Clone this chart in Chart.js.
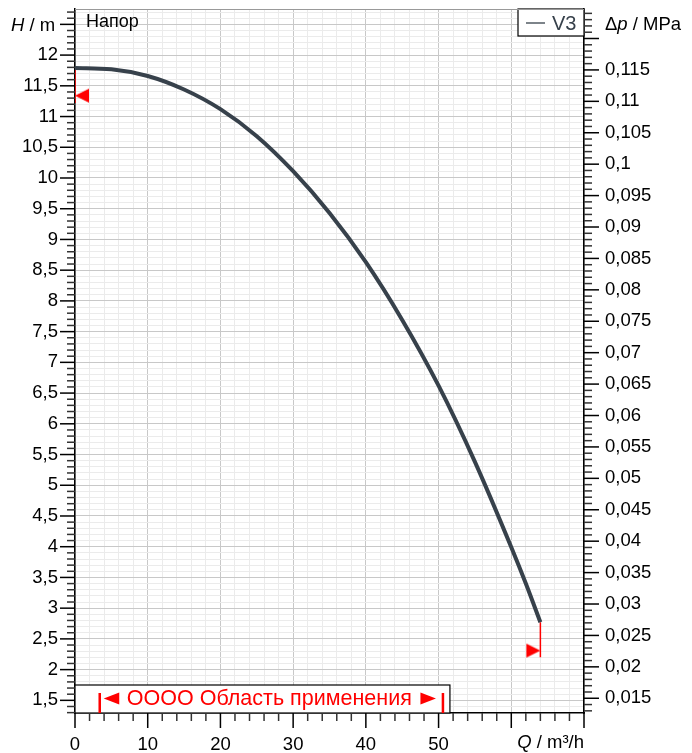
<!DOCTYPE html>
<html>
<head>
<meta charset="utf-8">
<script src="https://cdn.jsdelivr.net/npm/chart.js@4.4.0/dist/chart.umd.min.js"></script>
<style>
  html, body { margin: 0; padding: 0; background: #fff; }
  #wrap { width: 692px; height: 753px; }
</style>
</head>
<body>
<div id="wrap"><canvas id="pumpChart" width="692" height="753"></canvas></div>
<script>
// Q / m³/h
var flow = [0, 5, 10, 15, 20, 25, 30, 35, 40, 45, 50, 55, 60, 62, 64];
// H / m for curve V3
var head = [11.79, 11.77, 11.66, 11.44, 11.12, 10.68, 10.11, 9.43, 8.63, 7.69, 6.62, 5.38, 3.99, 3.40, 2.77];
var seriesName = "V3";

// red end markers of the curve
var markQ = [0, 64];
var markTopH = [11.79, 2.77];
var markBottomH = [11.22, 2.20];
var markArrowH = [11.34, 2.31];

// application range (Область применения)
var rangeQ = [3.4, 50.6];

// tick labels
var qTicks = [0, 10, 20, 30, 40, 50];
var hTicks = [1.5, 2, 2.5, 3, 3.5, 4, 4.5, 5, 5.5, 6, 6.5, 7, 7.5, 8, 8.5, 9, 9.5, 10, 10.5, 11, 11.5, 12];
var pTicks = [0.015, 0.02, 0.025, 0.03, 0.035, 0.04, 0.045, 0.05, 0.055, 0.06, 0.065, 0.07, 0.075, 0.08,
  0.085, 0.09, 0.095, 0.1, 0.105, 0.11, 0.115];

var hMin = 1.294, hMax = 12.75;
var qMin = 0, qMax = 70;
var rhoG = 0.00978; // MPa per m of head

var curveColor = "#37414b";
var majorGrid = "#c8c8c8";
var minorGrid = "#ebebeb";
var sans = "'Liberation Sans', Arial, sans-serif";
var tickFont = { family: sans, size: 18.5 };

function near(a, b) { return Math.abs(a - b) < 1e-6; }
function inList(list, v) { return list.some(function (t) { return near(t, v); }); }
function comma(v) { return String(v).replace(".", ","); }
function noPad(s) { s.paddingTop = 0; s.paddingBottom = 0; s.paddingLeft = 0; s.paddingRight = 0; }

// triangle marker whose tip sits on the data point
function arrowImage(dir) {
  var c = document.createElement("canvas");
  c.width = 32; c.height = 20;
  var g = c.getContext("2d");
  g.fillStyle = "#ff0000";
  g.beginPath();
  g.moveTo(16, 10);
  if (dir < 0) { g.lineTo(30, 3); g.lineTo(30, 17); }
  else { g.lineTo(2, 3); g.lineTo(2, 17); }
  g.closePath();
  g.fill();
  return c;
}

var decor = {
  id: "decor",
  afterDatasetsDraw: function (chart) {
    var ctx = chart.ctx, a = chart.chartArea, x = chart.scales.x;
    ctx.save();
    // application range box
    var rx0 = x.getPixelForValue(rangeQ[0]);
    var rx1 = x.getPixelForValue(rangeQ[1]);
    var top = a.bottom - 28;
    ctx.fillStyle = "#fff";
    ctx.fillRect(a.left, top, rx1 + 7 - a.left, 28);
    ctx.strokeStyle = "#000";
    ctx.lineWidth = 1.2;
    ctx.strokeRect(a.left, top, rx1 + 7 - a.left, 28);
    ctx.strokeStyle = "#ff0000";
    ctx.lineWidth = 2.5;
    [rx0, rx1].forEach(function (px) {
      ctx.beginPath();
      ctx.moveTo(px, a.bottom - 20);
      ctx.lineTo(px, a.bottom);
      ctx.stroke();
    });
    var my = a.bottom - 14.5;
    ctx.fillStyle = "#ff0000";
    ctx.beginPath();
    ctx.moveTo(rx0 + 4, my); ctx.lineTo(rx0 + 19.5, my - 6); ctx.lineTo(rx0 + 19.5, my + 6);
    ctx.closePath(); ctx.fill();
    ctx.beginPath();
    ctx.moveTo(rx1 - 7, my); ctx.lineTo(rx1 - 22.5, my - 6); ctx.lineTo(rx1 - 22.5, my + 6);
    ctx.closePath(); ctx.fill();
    ctx.font = "21.5px " + sans;
    ctx.textAlign = "center";
    ctx.textBaseline = "middle";
    ctx.fillText("OOOO Область применения", (rx0 + rx1) / 2 - 2, my + 0.5);

    // legend box
    ctx.fillStyle = "#fff";
    ctx.fillRect(a.right - 66, a.top, 66, 27);
    ctx.strokeStyle = "#000";
    ctx.lineWidth = 1.2;
    ctx.strokeRect(a.right - 66, a.top, 66, 27);
    ctx.strokeStyle = curveColor;
    ctx.lineWidth = 1.3;
    ctx.beginPath();
    ctx.moveTo(a.right - 58, a.top + 14);
    ctx.lineTo(a.right - 39, a.top + 14);
    ctx.stroke();
    ctx.fillStyle = curveColor;
    ctx.font = "20px " + sans;
    ctx.textAlign = "left";
    ctx.textBaseline = "alphabetic";
    ctx.fillText(chart.data.datasets[0].label, a.right - 32, a.top + 21);

    // chart title inside
    ctx.fillStyle = "#000";
    ctx.font = "18px " + sans;
    ctx.fillText("Напор", a.left + 11, a.top + 17.5);
    ctx.restore();
  },
  afterDraw: function (chart) {
    var ctx = chart.ctx, a = chart.chartArea;
    var x = chart.scales.x, y = chart.scales.y, y1 = chart.scales.y1;
    var i, p, len;
    ctx.save();
    // top border
    ctx.strokeStyle = "#999";
    ctx.lineWidth = 1;
    ctx.beginPath(); ctx.moveTo(a.left, a.top + 0.5); ctx.lineTo(a.right, a.top + 0.5); ctx.stroke();

    ctx.lineWidth = 1.5;
    // left ticks every 0.1 m
    for (i = Math.ceil(hMin * 10); i <= Math.floor(hMax * 10); i++) {
      p = y.getPixelForValue(i / 10);
      len = i % 5 === 0 ? 15 : 8;
      ctx.strokeStyle = i % 5 === 0 ? "#000" : "#333";
      ctx.beginPath(); ctx.moveTo(a.left - len, p); ctx.lineTo(a.left, p); ctx.stroke();
    }
    // bottom ticks every 2 m³/h
    for (i = qMin; i <= qMax; i += 2) {
      p = x.getPixelForValue(i);
      len = i % 10 === 0 ? 15 : 8;
      ctx.strokeStyle = i % 10 === 0 ? "#000" : "#333";
      ctx.beginPath(); ctx.moveTo(p, a.bottom); ctx.lineTo(p, a.bottom + len); ctx.stroke();
    }
    // right ticks every 0.001 MPa
    for (i = Math.ceil(y1.min * 1000); i <= Math.floor(y1.max * 1000); i++) {
      p = y1.getPixelForValue(i / 1000);
      len = i % 5 === 0 ? 15 : 8;
      ctx.strokeStyle = i % 5 === 0 ? "#000" : "#333";
      ctx.beginPath(); ctx.moveTo(a.right, p); ctx.lineTo(a.right + len, p); ctx.stroke();
    }

    // axis titles
    ctx.fillStyle = "#000";
    ctx.textBaseline = "alphabetic";
    function parts(list, px, py, alignRight) {
      var w = 0;
      list.forEach(function (t) { ctx.font = (t[1] ? "italic " : "") + "18.5px " + sans; w += ctx.measureText(t[0]).width; });
      var cx = alignRight ? px - w : px;
      ctx.textAlign = "left";
      list.forEach(function (t) {
        ctx.font = (t[1] ? "italic " : "") + "18.5px " + sans;
        ctx.fillText(t[0], cx, py);
        cx += ctx.measureText(t[0]).width;
      });
    }
    parts([["H", true], [" / m", false]], 11, 31, false);
    parts([["Δ", false], ["p", true], [" / MPa", false]], 605, 30, false);
    parts([["Q", true], [" / m³/h", false]], a.right, 748, true);
    ctx.restore();
  }
};

new Chart(document.getElementById("pumpChart"), {
  type: "line",
  data: {
    datasets: [
      {
        label: seriesName,
        data: flow.map(function (q, i) { return { x: q, y: head[i] }; }),
        borderColor: curveColor,
        borderWidth: 4,
        pointRadius: 0,
        cubicInterpolationMode: "monotone"
      },
      {
        label: "start",
        data: [{ x: markQ[0], y: markTopH[0] }, { x: markQ[0], y: markBottomH[0] }],
        borderColor: "#ff0000",
        borderWidth: 1.5,
        pointRadius: 0
      },
      {
        label: "end",
        data: [{ x: markQ[1], y: markTopH[1] }, { x: markQ[1], y: markBottomH[1] }],
        borderColor: "#ff0000",
        borderWidth: 1.5,
        pointRadius: 0
      },
      {
        label: "startArrow",
        data: [{ x: markQ[0], y: markArrowH[0] }],
        showLine: false,
        pointStyle: arrowImage(-1),
        pointRadius: 8
      },
      {
        label: "endArrow",
        data: [{ x: markQ[1], y: markArrowH[1] }],
        showLine: false,
        pointStyle: arrowImage(1),
        pointRadius: 8
      }
    ]
  },
  options: {
    responsive: false,
    animation: false,
    layout: { padding: { top: 6, left: 0, right: 0, bottom: 0 } },
    plugins: { legend: { display: false }, tooltip: { enabled: false } },
    scales: {
      x: {
        type: "linear",
        min: qMin,
        max: qMax,
        afterFit: function (s) { s.height = 40; noPad(s); },
        afterBuildTicks: function (s) {
          var t = [];
          for (var q = qMin; q <= qMax; q += 2) t.push({ value: q });
          s.ticks = t;
        },
        grid: {
          drawTicks: false,
          lineWidth: 1,
          color: function (c) { return c.tick && c.tick.value % 10 === 0 ? majorGrid : minorGrid; }
        },
        border: { color: "#000", width: 1.5 },
        ticks: {
          autoSkip: false,
          maxRotation: 0,
          padding: 21,
          color: "#000",
          font: tickFont,
          callback: function (v) { return inList(qTicks, v) ? String(v) : ""; }
        }
      },
      y: {
        position: "left",
        min: hMin,
        max: hMax,
        afterFit: function (s) { s.width = 75; noPad(s); },
        afterBuildTicks: function (s) {
          var t = [];
          for (var i = Math.ceil(hMin * 10); i <= Math.floor(hMax * 10); i++) t.push({ value: i / 10 });
          s.ticks = t;
        },
        grid: {
          drawTicks: false,
          lineWidth: 1,
          color: function (c) {
            if (!c.tick) return minorGrid;
            var v = c.tick.value * 2;
            return near(v, Math.round(v)) ? majorGrid : minorGrid;
          }
        },
        border: { color: "#000", width: 1.5 },
        ticks: {
          autoSkip: false,
          padding: 17,
          color: "#000",
          font: tickFont,
          callback: function (v) { return inList(hTicks, v) ? comma(Math.round(v * 10) / 10) : ""; }
        }
      },
      y1: {
        position: "right",
        min: hMin * rhoG,
        max: hMax * rhoG,
        afterFit: function (s) { s.width = 108; noPad(s); },
        afterBuildTicks: function (s) {
          var t = [];
          for (var i = 0; i < pTicks.length; i++) t.push({ value: pTicks[i] });
          s.ticks = t;
        },
        grid: { display: false, drawTicks: false },
        border: { display: true, color: "#000", width: 1.5 },
        ticks: {
          autoSkip: false,
          padding: 21,
          color: "#000",
          font: tickFont,
          callback: function (v) {
            for (var i = 0; i < pTicks.length; i++) if (near(pTicks[i], v)) return comma(pTicks[i]);
            return "";
          }
        }
      }
    }
  },
  plugins: [decor]
});
</script>
</body>
</html>
